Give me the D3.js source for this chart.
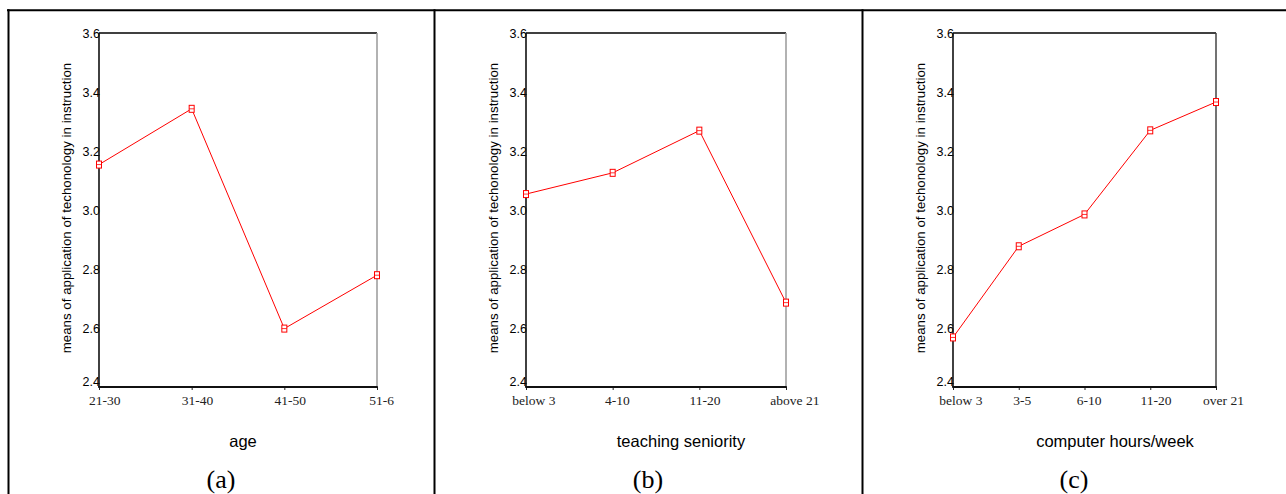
<!DOCTYPE html>
<html>
<head>
<meta charset="utf-8">
<script src="https://cdn.jsdelivr.net/npm/d3@7"></script>
<style>
  html, body { margin: 0; padding: 0; background: #fff; }
  svg { display: block; }
</style>
</head>
<body>
<div id="viz"></div>
<script>
// data
var ageCats = ["21-30", "31-40", "41-50", "51-6"];
var ageMeans = [3.154, 3.343, 2.598, 2.779];

var seniorityCats = ["below 3", "4-10", "11-20", "above 21"];
var seniorityMeans = [3.054, 3.126, 3.269, 2.686];

var hoursCats = ["below 3", "3-5", "6-10", "11-20", "over 21"];
var hoursMeans = [2.568, 2.877, 2.985, 3.270, 3.366];

var yTicks = [2.4, 2.6, 2.8, 3.0, 3.2, 3.4, 3.6];
var yTitle = "means of application of techonology in instruction";
var xTitles = ["age", "teaching seniority", "computer hours/week"];
var panelTags = ["(a)", "(b)", "(c)"];

// layout (note: "top" is reserved on window, so plotTop)
var W = 1286, H = 494;
var plotTop = 33, plotBottom = 387;
var panels = [
  {x0: 8,   x1: 434, left: 99,  right: 377,  titleX: 243,  cats: ageCats, vals: ageMeans, rightStroke: "#999"},
  {x0: 434, x1: 862, left: 526, right: 786,  titleX: 681,  cats: seniorityCats, vals: seniorityMeans, rightStroke: "#999"},
  {x0: 862, x1: 1286, left: 953, right: 1216, titleX: 1115, cats: hoursCats, vals: hoursMeans, rightStroke: "#444"}
];

var svg = d3.select("#viz").append("svg")
  .attr("width", W)
  .attr("height", H);

var sans = "'Liberation Sans', Arial, sans-serif";
var serif = "'Liberation Serif', 'Times New Roman', serif";

var y = d3.scaleLinear().domain([2.4, 3.6]).range([plotBottom, plotTop]);

panels.forEach(function(p, i) {
  var g = svg.append("g");

  var x = d3.scalePoint()
    .domain(p.cats)
    .range([p.left, p.right])
    .padding(0);

  // y axis labels (text sits under the axis line, as in the original)
  var yAxis = g.append("g")
    .attr("transform", "translate(" + p.left + ",0)")
    .call(d3.axisLeft(y).tickValues(yTicks).tickSize(0).tickPadding(-1)
      .tickFormat(d3.format(".1f")));
  yAxis.select(".domain").remove();
  yAxis.selectAll("text")
    .style("font-family", sans)
    .style("font-size", "12.5px")
    .attr("fill", "#000")
    .attr("dy", function(d) { return d === 2.4 ? "-0.1em" : "0.32em"; });

  // x axis
  var xAxis = g.append("g")
    .attr("transform", "translate(0," + plotBottom + ")")
    .call(d3.axisBottom(x).tickSize(3).tickPadding(0));
  xAxis.select(".domain").remove();
  xAxis.selectAll("line").attr("stroke", "#222");
  xAxis.selectAll("text")
    .style("font-family", serif)
    .style("font-size", "13.5px")
    .attr("fill", "#222")
    .attr("text-anchor", "start")
    .attr("y", 18)
    .attr("dy", 0)
    .attr("x", function() { return -0.33 * this.getComputedTextLength(); });

  // plot frame
  g.append("line").attr("x1", p.left).attr("x2", p.right).attr("y1", plotTop).attr("y2", plotTop)
    .attr("stroke", "#000").attr("stroke-width", 1.3);
  g.append("line").attr("x1", p.right).attr("x2", p.right).attr("y1", plotTop).attr("y2", plotBottom)
    .attr("stroke", p.rightStroke).attr("stroke-width", 1.5);
  g.append("line").attr("x1", p.left).attr("x2", p.left).attr("y1", plotTop).attr("y2", plotBottom)
    .attr("stroke", "#111").attr("stroke-width", 1.6);
  g.append("line").attr("x1", p.left - 0.8).attr("x2", p.right + 0.75).attr("y1", plotBottom).attr("y2", plotBottom)
    .attr("stroke", "#111").attr("stroke-width", 2);

  // series line
  var pts = p.cats.map(function(c, k) { return {cat: c, value: p.vals[k]}; });
  g.append("path").datum(pts)
    .attr("fill", "none")
    .attr("stroke", "#ff0000")
    .attr("stroke-width", 1)
    .attr("d", d3.line()
      .x(function(d) { return x(d.cat); })
      .y(function(d) { return y(d.value); }));

  // hollow square markers
  var mk = g.selectAll(".mk").data(pts).enter().append("g")
    .attr("class", "mk")
    .attr("transform", function(d) { return "translate(" + x(d.cat) + "," + y(d.value) + ")"; });
  mk.append("rect")
    .attr("x", -2.5).attr("y", -3.5)
    .attr("width", 5).attr("height", 7)
    .attr("fill", "#fff")
    .attr("stroke", "#ff0000")
    .attr("stroke-width", 1);
  mk.append("line")
    .attr("x1", -2.5).attr("x2", 2.5).attr("y1", 0).attr("y2", 0)
    .attr("stroke", "#ff0000")
    .attr("stroke-width", 0.8);

  // y title
  g.append("text")
    .attr("transform", "translate(" + (p.left - 28) + "," + ((plotTop + plotBottom) / 2 - 2) + ") rotate(-90)")
    .attr("text-anchor", "middle")
    .style("font-family", sans)
    .style("font-size", "13.3px")
    .attr("fill", "#000")
    .text(yTitle);

  // x title
  g.append("text")
    .attr("x", p.titleX)
    .attr("y", 447)
    .attr("text-anchor", "middle")
    .style("font-family", sans)
    .style("font-size", "16.5px")
    .attr("fill", "#000")
    .text(xTitles[i]);

  // panel tag
  g.append("text")
    .attr("x", (p.x0 + p.x1) / 2)
    .attr("y", 488)
    .attr("text-anchor", "middle")
    .style("font-family", serif)
    .style("font-size", "26px")
    .attr("fill", "#000")
    .text(panelTags[i]);
});

// outer table borders
svg.append("line").attr("x1", 7).attr("x2", W).attr("y1", 10.3).attr("y2", 10.3)
  .attr("stroke", "#000").attr("stroke-width", 2);
[8.5, 434.5, 862.5].forEach(function(bx) {
  svg.append("line").attr("x1", bx).attr("x2", bx).attr("y1", 9.3).attr("y2", H)
    .attr("stroke", "#000").attr("stroke-width", 2);
});
</script>
</body>
</html>
